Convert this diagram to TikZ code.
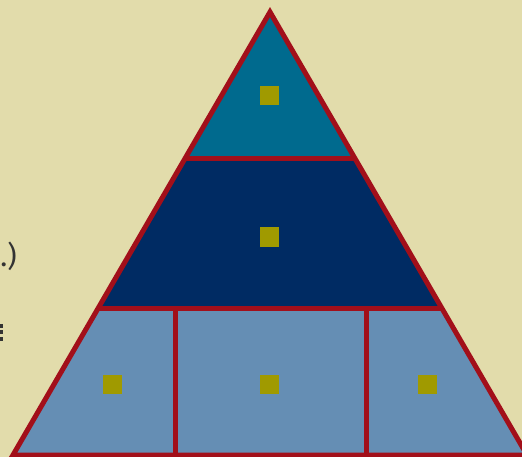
\documentclass[tikz,border=0pt]{standalone}
\usepackage{fontspec}
\setmainfont{Fira Sans}
\definecolor{bgc}{HTML}{E2DCAB}
\definecolor{edgec}{HTML}{A20F1A}
\definecolor{topc}{HTML}{006A8E}
\definecolor{midc}{HTML}{002B63}
\definecolor{lowc}{HTML}{658EB4}
\definecolor{markc}{HTML}{A09A00}
\definecolor{txtc}{HTML}{333333}
\begin{document}
\begin{tikzpicture}[x=1pt,y=-1pt,
  tierline/.style={draw=edgec,line width=5pt},
  marker/.style={fill=markc,minimum size=19pt,inner sep=0pt,draw=none,rectangle}]
\fill[bgc] (0,0) rectangle (522,457);
\useasboundingbox (0,0) rectangle (522,457);
% corners
\coordinate (A) at (270,12);
\coordinate (L1) at (184.7,159);
\coordinate (R1) at (355.3,159);
\coordinate (L2) at (98.3,308);
\coordinate (R2) at (441.7,308);
\coordinate (BL) at (13,455);
\coordinate (BR) at (527,455);
\coordinate (V1t) at (175,308);
\coordinate (V1b) at (175,455);
\coordinate (V2t) at (366,308);
\coordinate (V2b) at (366,455);
% fills
\fill[topc] (A) -- (R1) -- (L1) -- cycle;
\fill[midc] (L1) -- (R1) -- (R2) -- (L2) -- cycle;
\fill[lowc] (L2) -- (R2) -- (BR) -- (BL) -- cycle;
% markers
\node[marker] (m1) at (269,96) {};
\node[marker] (m2) at (269,237) {};
\node[marker] (m3) at (112,384) {};
\node[marker] (m4) at (269,384) {};
\node[marker] (m5) at (427,384) {};
% lines
\draw[tierline] (L1) -- (R1);
\draw[tierline] (L2) -- (R2);
\draw[tierline] (V1t) -- (V1b);
\draw[tierline] (V2t) -- (V2b);
\draw[tierline] (A) -- (BR) -- (BL) -- cycle;
% cut-off text at left
\node[anchor=base east,text=txtc,font=\fontsize{29}{34}\selectfont\addfontfeature{Weight=300},inner sep=0pt] (t1) at (17,266) {.)};
\fill[txtc] (0,323.5) rectangle (3,327.5);
\fill[txtc] (0,330) rectangle (3,334);
\fill[txtc] (0,336.5) rectangle (3,340.5);
\end{tikzpicture}
\end{document}
